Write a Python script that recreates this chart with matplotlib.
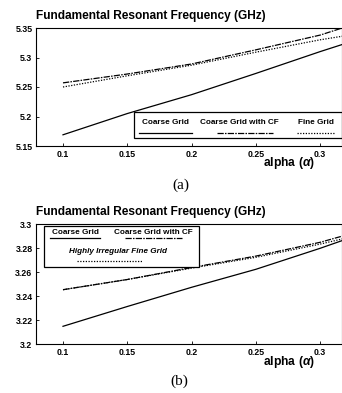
import numpy as np
import matplotlib
matplotlib.use("Agg")
import matplotlib.pyplot as plt
from matplotlib.patches import Rectangle
from matplotlib.lines import Line2D

# values
alpha = [0.1, 0.15, 0.2, 0.25, 0.3, 0.32]
coarse_a = [5.169, 5.205, 5.237, 5.273, 5.310, 5.324]
cf_a = [5.257, 5.272, 5.289, 5.313, 5.338, 5.352]
fine_a = [5.250, 5.269, 5.287, 5.309, 5.330, 5.337]

coarse_b = [3.2150, 3.2315, 3.2475, 3.2625, 3.2800, 3.2875]
cf_b = [3.2455, 3.2540, 3.2640, 3.2735, 3.2850, 3.2910]
fine_b = [3.2455, 3.2540, 3.2635, 3.2725, 3.2835, 3.2885]

xticks = [0.1, 0.15, 0.2, 0.25, 0.3]
xticklabels = ['0.1', '0.15', '0.2', '0.25', '0.3']
yticks_a = [5.15, 5.2, 5.25, 5.3, 5.35]
yticklabels_a = ['5.15', '5.2', '5.25', '5.3', '5.35']
yticks_b = [3.2, 3.22, 3.24, 3.26, 3.28, 3.3]
yticklabels_b = ['3.2', '3.22', '3.24', '3.26', '3.28', '3.3']

title = 'Fundamental Resonant Frequency (GHz)'
xlab = r'alpha ($\alpha$)'

W, H = 342, 393
fig = plt.figure(figsize=(W/100., H/100.), dpi=100)
fig.patch.set_facecolor('white')

SANS = 'Liberation Sans'
SERIF = 'Liberation Serif'
plt.rcParams['mathtext.fontset'] = 'custom'
plt.rcParams['mathtext.it'] = 'Liberation Sans:italic:bold'

def fx(x):
    return x / float(W)

def fy(y):
    return 1 - y / float(H)

solid = '-'
dashdot = (0, (5, 1, 1.2, 1))
dotted = (0, (1, 1.2))
lw = 0.9

def setup(ax, yticks, ylabels, ylim):
    ax.set_xlim(0.079, 0.317)
    ax.set_ylim(*ylim)
    ax.set_xticks(xticks)
    ax.set_xticklabels(xticklabels, fontfamily=SANS, fontweight='bold', fontsize=6.3)
    ax.set_yticks(yticks)
    ax.set_yticklabels(ylabels, fontfamily=SANS, fontweight='bold', fontsize=6.3)
    ax.tick_params(direction='in', length=2.5, width=0.6, pad=3)
    ax.tick_params(axis='y', pad=2.5)
    for s in ax.spines.values():
        s.set_linewidth(0.8)

# ---- panel (a)
ax1 = fig.add_axes([fx(36), fy(146), fx(342 - 36), (146 - 28) / float(H)])
ax1.plot(alpha, coarse_a, color='k', lw=lw, ls=solid)
ax1.plot(alpha, cf_a, color='k', lw=lw, ls=dashdot)
ax1.plot(alpha, fine_a, color='k', lw=lw, ls=dotted)
setup(ax1, yticks_a, yticklabels_a, (5.15, 5.35))

fig.text(fx(36), fy(16), title, fontfamily=SANS, fontweight='bold', fontsize=8.6,
         ha='left', va='center')
fig.text(fx(289), fy(163), xlab, fontfamily=SANS, fontweight='bold', fontsize=8.7,
         ha='center', va='center')
fig.text(fx(181), fy(185), '(a)', fontfamily=SERIF, fontsize=11, ha='center', va='center')

# legend (a): labels above short line samples
fig.patches.append(Rectangle((fx(134), fy(138)), fx(342 - 134), (138 - 112) / float(H),
                             transform=fig.transFigure, facecolor='white',
                             edgecolor='k', lw=0.9, zorder=5))
leg_a = [('Coarse Grid', solid, 139, 192),
         ('Coarse Grid with CF', dashdot, 217, 273),
         ('Fine Grid', dotted, 297, 335)]
cx_a = [165, 239, 316]
for (lab, ls, x0, x1), cx in zip(leg_a, cx_a):
    fig.text(fx(cx), fy(122.5), lab, fontfamily=SANS, fontweight='bold', fontsize=5.9,
             ha='center', va='center', zorder=6)
    fig.lines.append(Line2D([fx(x0), fx(x1)], [fy(133), fy(133)], transform=fig.transFigure,
                            color='k', lw=lw, ls=ls, zorder=6))

# ---- panel (b)
ax2 = fig.add_axes([fx(36), fy(344.3), fx(342 - 36), (344.3 - 224.3) / float(H)])
ax2.plot(alpha, coarse_b, color='k', lw=lw, ls=solid)
ax2.plot(alpha, cf_b, color='k', lw=lw, ls=dashdot)
ax2.plot(alpha, fine_b, color='k', lw=lw, ls=dotted)
setup(ax2, yticks_b, yticklabels_b, (3.2, 3.3))

fig.text(fx(36), fy(212), title, fontfamily=SANS, fontweight='bold', fontsize=8.6,
         ha='left', va='center')
fig.text(fx(289), fy(362), xlab, fontfamily=SANS, fontweight='bold', fontsize=8.7,
         ha='center', va='center')
fig.text(fx(179), fy(381), '(b)', fontfamily=SERIF, fontsize=11, ha='center', va='center')

fig.patches.append(Rectangle((fx(44), fy(266.7)), fx(199 - 44), (266.7 - 225.7) / float(H),
                             transform=fig.transFigure, facecolor='white',
                             edgecolor='k', lw=0.9, zorder=5))
leg_b = [('Coarse Grid', solid, 50, 100, 75, 232.3, 238.3, 'normal'),
         ('Coarse Grid with CF', dashdot, 125, 182, 153, 232.3, 238.3, 'normal'),
         ('Highly Irregular Fine Grid', dotted, 77, 142, 118, 251.7, 260.7, 'italic')]
for lab, ls, x0, x1, cx, ty, ly, st in leg_b:
    fig.text(fx(cx), fy(ty), lab, fontfamily=SANS, fontweight='bold', fontstyle=st,
             fontsize=5.9, ha='center', va='center', zorder=6)
    fig.lines.append(Line2D([fx(x0), fx(x1)], [fy(ly), fy(ly)], transform=fig.transFigure,
                            color='k', lw=lw, ls=ls, zorder=6))

fig.savefig('out.png', dpi=100)
